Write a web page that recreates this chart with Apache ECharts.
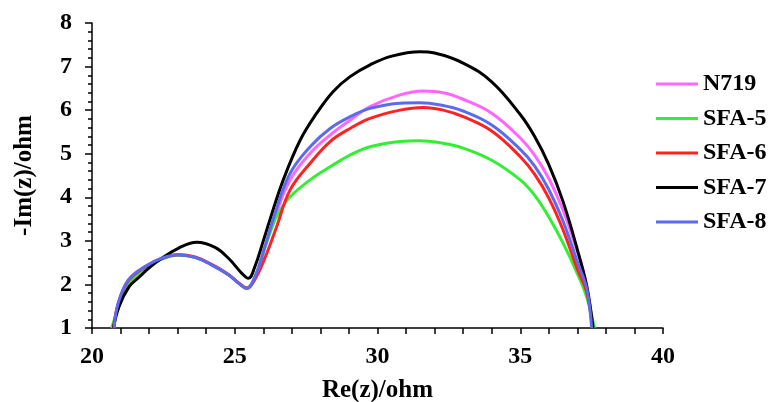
<!DOCTYPE html>
<html>
<head>
<meta charset="utf-8">
<script src="https://cdn.jsdelivr.net/npm/echarts@6/dist/echarts.min.js"></script>
<style>html,body{margin:0;padding:0;background:#fff}#c{width:771px;height:402px}</style>
</head>
<body>
<div id="c"></div>
<script>
const seriesNames = ['N719', 'SFA-5', 'SFA-6', 'SFA-7', 'SFA-8'];
const xTicks = [20, 25, 30, 35, 40];
const yTicks = [1, 2, 3, 4, 5, 6, 7, 8];

const n719X = [20.77, 20.92, 21.27, 21.86, 22.44, 23.02, 23.61, 24.19, 24.78, 25.13, 25.42, 25.71, 26.06, 26.41, 26.94, 27.64, 28.34, 29.04, 29.74, 30.79, 31.60, 32.30, 33.00, 34.00, 35.00, 35.50, 36.00, 36.50, 37.00, 37.33, 37.54];
const n719Y = [1.0, 1.57, 2.10, 2.41, 2.60, 2.68, 2.62, 2.45, 2.22, 2.03, 1.91, 2.18, 2.87, 3.55, 4.40, 5.01, 5.43, 5.77, 6.08, 6.35, 6.44, 6.40, 6.25, 5.93, 5.36, 4.97, 4.43, 3.70, 2.75, 1.98, 1.0];

const sfa5X = [20.69, 20.95, 21.30, 21.86, 22.44, 23.02, 23.61, 24.19, 24.78, 25.13, 25.42, 25.71, 26.06, 26.30, 26.50, 26.94, 27.64, 28.34, 29.04, 29.74, 30.79, 31.49, 32.20, 33.00, 34.00, 35.00, 35.50, 36.00, 36.50, 37.00, 37.33, 37.60];
const sfa5Y = [1.0, 1.50, 2.02, 2.38, 2.58, 2.67, 2.62, 2.45, 2.22, 2.03, 1.91, 2.15, 2.85, 3.30, 3.60, 4.01, 4.40, 4.70, 4.97, 5.16, 5.28, 5.30, 5.25, 5.13, 4.85, 4.40, 4.05, 3.55, 2.95, 2.25, 1.70, 1.0];

const sfa6X = [20.75, 20.92, 21.27, 21.86, 22.44, 23.02, 23.61, 24.19, 24.78, 25.13, 25.42, 25.71, 26.12, 26.47, 26.94, 27.64, 28.34, 29.04, 29.74, 30.79, 31.60, 32.30, 33.00, 34.00, 35.00, 35.50, 36.00, 36.50, 37.00, 37.33, 37.52];
const sfa6Y = [1.0, 1.55, 2.08, 2.40, 2.59, 2.68, 2.63, 2.46, 2.23, 2.04, 1.92, 2.12, 2.71, 3.33, 4.17, 4.78, 5.28, 5.58, 5.81, 6.00, 6.06, 6.00, 5.85, 5.52, 4.93, 4.53, 3.98, 3.25, 2.35, 1.82, 1.0];

const sfa7X = [20.75, 20.95, 21.30, 21.62, 22.00, 22.44, 23.02, 23.67, 24.31, 24.78, 25.24, 25.48, 25.70, 26.00, 26.23, 26.70, 27.29, 27.87, 28.45, 29.04, 29.74, 30.50, 31.49, 32.00, 33.00, 34.00, 35.00, 35.50, 36.00, 36.50, 37.00, 37.33, 37.55];
const sfa7Y = [1.0, 1.50, 1.95, 2.15, 2.38, 2.60, 2.83, 2.97, 2.85, 2.60, 2.26, 2.14, 2.40, 3.00, 3.48, 4.40, 5.31, 5.93, 6.43, 6.77, 7.04, 7.24, 7.34, 7.31, 7.08, 6.65, 5.90, 5.40, 4.75, 3.90, 2.80, 1.95, 1.0];

const sfa8X = [20.77, 20.92, 21.27, 21.86, 22.44, 23.02, 23.61, 24.19, 24.78, 25.13, 25.42, 25.71, 26.06, 26.41, 26.94, 27.64, 28.34, 29.04, 29.74, 30.79, 31.49, 32.20, 33.00, 34.00, 35.00, 35.50, 36.00, 36.50, 37.00, 37.33, 37.50];
const sfa8Y = [1.0, 1.57, 2.10, 2.41, 2.60, 2.68, 2.62, 2.45, 2.22, 2.03, 1.91, 2.18, 2.87, 3.63, 4.55, 5.16, 5.58, 5.85, 6.04, 6.16, 6.17, 6.12, 5.98, 5.66, 5.10, 4.72, 4.18, 3.45, 2.52, 1.90, 1.0];

const colors = ['#FF66FF', '#33EE33', '#FF2222', '#000000', '#5B6BEF'];
const allX = [n719X, sfa5X, sfa6X, sfa7X, sfa8X];
const allY = [n719Y, sfa5Y, sfa6Y, sfa7Y, sfa8Y];

const font = 'Liberation Serif, Times New Roman, serif';
const chart = echarts.init(document.getElementById('c'));
chart.setOption({
  animation: false,
  backgroundColor: '#fff',
  grid: { left: 92, right: 108, top: 23, bottom: 74, containLabel: false, outerBoundsMode: 'none' },
  legend: {
    orient: 'vertical', left: 656, top: 72, padding: 0,
    icon: 'rect', itemWidth: 42, itemHeight: 3, itemGap: 10.5, itemTextGap: 4,
    textStyle: { fontFamily: font, fontWeight: 'bold', fontSize: 24, color: '#000' },
    data: seriesNames
  },
  xAxis: {
    type: 'value', min: xTicks[0], max: xTicks[xTicks.length - 1], interval: 5,
    name: 'Re(z)/ohm', nameLocation: 'middle', nameGap: 50,
    nameTextStyle: { fontFamily: font, fontWeight: 'bold', fontSize: 25, color: '#000' },
    axisLine: { show: true, lineStyle: { color: '#000', width: 1.5 } },
    axisTick: { show: true, inside: false, length: 6, lineStyle: { color: '#000', width: 1.5 } },
    minorTick: { show: true, splitNumber: 5, length: 6, lineStyle: { color: '#000', width: 1.5 } },
    axisLabel: { fontFamily: font, fontWeight: 'bold', fontSize: 24, color: '#000', margin: 17 },
    splitLine: { show: false }
  },
  yAxis: {
    type: 'value', min: yTicks[0], max: yTicks[yTicks.length - 1], interval: 1,
    name: '-Im(z)/ohm', nameLocation: 'middle', nameGap: 55, nameRotate: 90,
    nameTextStyle: { fontFamily: font, fontWeight: 'bold', fontSize: 25, color: '#000' },
    axisLine: { show: true, lineStyle: { color: '#000', width: 1.5 } },
    axisTick: { show: true, inside: false, length: 7, lineStyle: { color: '#000', width: 1.5 } },
    minorTick: { show: true, splitNumber: 5, length: 4, lineStyle: { color: '#000', width: 1.5 } },
    axisLabel: { fontFamily: font, fontWeight: 'bold', fontSize: 24, color: '#000', margin: 20 },
    splitLine: { show: false }
  },
  series: seriesNames.map((n, i) => ({
    name: n, type: 'line', symbol: 'none', showSymbol: false,
    smooth: 0.4,
    color: colors[i],
    lineStyle: { color: colors[i], width: 3 },
    data: allX[i].map((x, k) => [x, allY[i][k]])
  }))
});
</script>
</body>
</html>
